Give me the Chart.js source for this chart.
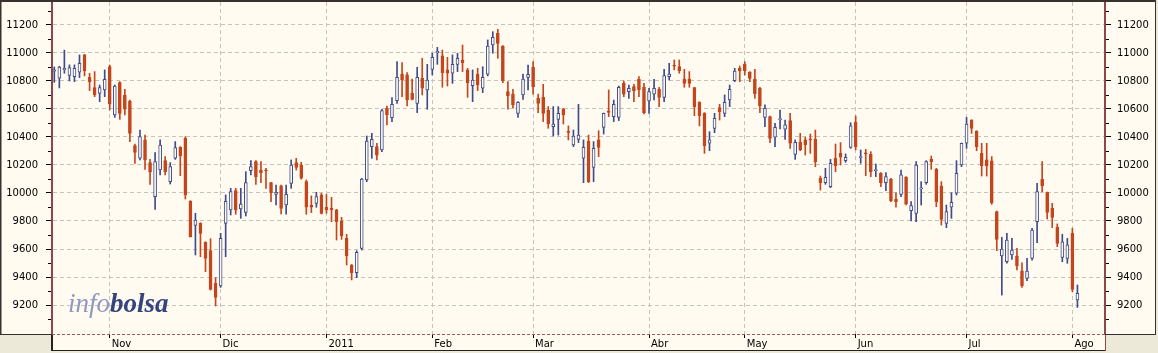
<!DOCTYPE html>
<html>
<head>
<meta charset="utf-8">
<script src="https://cdn.jsdelivr.net/npm/chart.js@4.4.1/dist/chart.umd.min.js"></script>
<style>
  html, body { margin: 0; padding: 0; background: #ece9d8; }
  #wrap { width: 1158px; height: 353px; }
</style>
</head>
<body>
<div id="wrap"><canvas id="ibex-chart" width="1158" height="353"></canvas></div>
<script>
// daily OHLC, 15 Oct 2010 -> 2 Aug 2011 (one entry per session)
const openV = [
  10870, 10820, 10880, 10840, 10830, 10862, 10986, 10826, 10752, 10712, 10736,
  10902, 10557, 10788, 10700, 10657, 10338, 10248, 10379, 10217, 9974, 10164,
  10231, 10081, 10248, 10326, 10390, 9943, 9769, 9783, 9648, 9588, 9355,
  9336, 9783, 9879, 10017, 9886, 9862, 10160, 10224, 10164, 10162, 10074,
  9990, 10052, 9914, 10069, 10217, 10200, 10081, 9914, 9926, 9986,
  9898, 9890, 9879, 9800, 9676, 9486, 9431, 9605, 10093, 10331, 10331,
  10307, 10605, 10538, 10660, 10850, 10843, 10712, 10640, 10819, 10736,
  10883, 11000, 10979, 10879, 10855, 10919, 10950, 10879, 10767, 10850,
  10748, 10848, 11057, 11140, 11050, 10724, 10707, 10569, 10700, 10826,
  10898, 10676, 10683, 10593, 10474, 10526, 10598, 10440, 10343, 10383,
  10248, 10371, 10183, 10379, 10469, 10586, 10545, 10540, 10783, 10724,
  10760, 10812, 10755,
  10657, 10705, 10740, 10683, 10831, 10910, 10902, 10814, 10814, 10752,
  10648, 10569, 10355, 10462, 10610, 10569, 10664, 10802, 10890,
  10921, 10862, 10814, 10748, 10540, 10545, 10398, 10524, 10455, 10517,
  10276, 10362, 10379, 10386, 10383, 10105, 10074, 10045, 10248, 10283,
  10231, 10326,
  10505, 10252, 10286, 10276, 10160, 10140, 10074, 10100, 9957, 9990,
  10112, 9874, 9855, 10029, 10074, 10240, 10169, 10050, 9783, 9898,
  9998, 10200,
  10355, 10521, 10443, 10283, 10236, 10229, 9867, 9550, 9509, 9557,
  9550, 9445, 9390, 9533, 9795, 10098, 10005, 9890, 9755, 9540, 9533,
  9712, 9236
];
const highV = [
  10900, 10905, 11020, 10915, 10915, 10986, 10990, 10855, 10867, 10771, 10879,
  10914, 10771, 10795, 10740, 10664, 10350, 10450, 10414, 10240, 10288, 10379,
  10260, 10217, 10367, 10331, 10402, 9945, 9855, 9788, 9652, 9674, 9395,
  9712, 9986, 10033, 10033, 10033, 10152, 10231, 10231, 10224, 10176, 10076,
  10057, 10057, 10057, 10236, 10248, 10219, 10093, 9979, 10005, 9998,
  9990, 9969, 9883, 9826, 9705, 9490, 9588, 10105, 10407, 10426, 10355,
  10598, 10621, 10681, 10938, 10931, 10860, 10814, 10898, 10962, 10919,
  10998, 11040, 11021, 10969, 10986, 10998, 11057, 10890, 10879, 10890,
  10902, 11093, 11152, 11169, 11052, 10795, 10740, 10652, 10850, 10914,
  10938, 10707, 10776, 10617, 10617, 10617, 10605, 10479, 10450, 10633,
  10379, 10414, 10367, 10445, 10571, 10736, 10664, 10764, 10800, 10771,
  10776, 10831, 10783,
  10748, 10812, 10755, 10883, 10926, 10950, 10950, 10883, 10867, 10755,
  10652, 10574, 10438, 10569, 10633, 10700, 10771, 10890, 10907,
  10938, 10867, 10883, 10755, 10629, 10550, 10498, 10593, 10521, 10569,
  10379, 10426, 10398, 10421, 10450, 10121, 10176, 10240, 10350, 10360,
  10279, 10502,
  10550, 10307, 10312, 10295, 10207, 10145, 10145, 10105, 10002, 10164,
  10117, 9938, 10224, 10081, 10231, 10264, 10176, 10081, 9914, 10002,
  10231, 10357,
  10540, 10524, 10445, 10355, 10355, 10260, 9871, 9683, 9712, 9676,
  9605, 9502, 9533, 9748, 10069, 10224, 10007, 9926, 9779, 9705, 9676,
  9748, 9343
];
const lowV = [
  10790, 10750, 10855, 10800, 10795, 10824, 10836, 10731, 10688, 10652, 10688,
  10593, 10540, 10526, 10557, 10367, 10212, 10236, 10169, 10062, 9883, 10129,
  10129, 10064, 10240, 10124, 9957, 9685, 9557, 9545, 9438, 9307, 9193,
  9326, 9545, 9843, 9848, 9819, 9836, 10129, 10062, 10074, 10033, 9938,
  9914, 9850, 9848, 10033, 10164, 10098, 9848, 9860, 9898, 9850,
  9855, 9795, 9664, 9669, 9486, 9379, 9395, 9593, 10081, 10248, 10236,
  10295, 10486, 10510, 10640, 10688, 10621, 10664, 10574, 10700, 10598,
  10843, 10919, 10755, 10764, 10783, 10867, 10867, 10683, 10652, 10731,
  10717, 10836, 10998, 10962, 10788, 10598, 10605, 10540, 10669, 10736,
  10705, 10574, 10510, 10462, 10407, 10414, 10493, 10379, 10331, 10360,
  10074, 10074, 10081, 10260, 10421, 10545, 10510, 10517, 10688, 10676,
  10652, 10688, 10564,
  10569, 10664, 10617, 10652, 10807, 10879, 10855, 10755, 10755, 10552,
  10479, 10283, 10302, 10431, 10521, 10545, 10617, 10795, 10795,
  10843, 10795, 10676, 10574, 10474, 10360, 10331, 10457, 10383, 10319,
  10240, 10302, 10271, 10283, 10188, 10021, 10062, 10038, 10152, 10200,
  10219, 10319,
  10307, 10212, 10124, 10117, 10117, 10045, 10017, 9938, 9898, 9974,
  9914, 9800, 9795, 9914, 10062, 10169, 9902, 9771, 9752, 9819,
  9986, 10188,
  10319, 10426, 10302, 10121, 10121, 9919, 9588, 9271, 9498, 9526,
  9450, 9326, 9374, 9521, 9645, 10010, 9814, 9752, 9617, 9509, 9498,
  9295, 9183
];
const closeV = [
  10880, 10900, 10890, 10895, 10890, 10926, 10871, 10795, 10700, 10752, 10812,
  10636, 10764, 10569, 10598, 10426, 10290, 10402, 10236, 10148, 10224, 10343,
  10152, 10188, 10324, 10264, 9986, 9688, 9807, 9712, 9533, 9312, 9255,
  9676, 9940, 10010, 9879, 9921, 10074, 10188, 10117, 10145, 10157, 10002,
  10005, 9890, 9990, 10200, 10183, 10105, 9898, 9898, 9974, 9855,
  9879, 9879, 9795, 9693, 9550, 9431, 9576, 10100, 10371, 10383, 10271,
  10588, 10557, 10633, 10826, 10807, 10664, 10669, 10826, 10748, 10807,
  10969, 11012, 10860, 10855, 10919, 10962, 10931, 10788, 10807, 10771,
  10826, 11050, 11112, 11069, 10802, 10695, 10629, 10648, 10814, 10848,
  10760, 10640, 10569, 10493, 10493, 10569, 10557, 10433, 10407, 10414,
  10326, 10081, 10319, 10326, 10569, 10576, 10633, 10755, 10705, 10748,
  10731, 10736, 10574,
  10724, 10748, 10683, 10838, 10850, 10905, 10874, 10783, 10783, 10617,
  10552, 10338, 10379, 10533, 10581, 10648, 10740, 10871, 10871,
  10874, 10819, 10707, 10621, 10605, 10390, 10469, 10529, 10486, 10355,
  10362, 10307, 10343, 10379, 10224, 10074, 10112, 10212, 10195, 10255,
  10255, 10479,
  10331, 10260, 10279, 10152, 10164, 10074, 10117, 9945, 9938, 10129,
  9921, 9910, 10200, 10033, 10224, 10224, 9938, 9812, 9867, 9933,
  10140, 10355,
  10493, 10462, 10331, 10195, 10193, 9931, 9669, 9600, 9664, 9593,
  9479, 9336, 9443, 9736, 10010, 10050, 9862, 9826, 9640, 9652, 9629,
  9312, 9283
];

// session index of the first trading day of each month
const monthTicks = [11, 33, 54, 75, 95, 118, 137, 159, 181, 202];
const monthLabels = ["Nov", "Dic", "2011", "Feb", "Mar", "Abr", "May", "Jun", "Jul", "Ago"];
const yMajor = [9200, 9400, 9600, 9800, 10000, 10200, 10400, 10600, 10800, 11000, 11200];
const yMinor = [9100, 9300, 9500, 9700, 9900, 10100, 10300, 10500, 10700, 10900, 11100, 11300];

const BLUE = "#3e4b8c";
const RED = "#c4461d";
const CREAM = "#fffbf0";
const GRID = "#c6c3b9";
const AXIS = "#8b4848";
const tickFont = { family: "DejaVu Sans", size: 10 };

const isUp = i => closeV[i] >= openV[i];

// drop the label padding chart.js reserves, the plot runs to the frame
const noPad = s => {
  s.paddingTop = 0;
  s.paddingBottom = 0;
  s.paddingLeft = 0;
  s.paddingRight = 0;
};

const frame = {
  id: "frame",
  beforeDraw(chart) {
    const { ctx } = chart;
    ctx.save();
    ctx.fillStyle = "#ece9d8";
    ctx.fillRect(0, 0, 1158, 353);
    ctx.fillStyle = CREAM;
    ctx.fillRect(0, 0, 1156, 335);
    ctx.fillRect(52, 335, 1054, 16);
    ctx.restore();
  },
  beforeDatasetsDraw(chart) {
    const { ctx } = chart;
    ctx.save();
    ctx.textBaseline = "alphabetic";
    ctx.font = 'italic 27px "Liberation Serif"';
    ctx.fillStyle = "#8f98c2";
    ctx.fillText("info", 68, 312);
    const w = ctx.measureText("info").width;
    ctx.font = 'italic bold 27px "Liberation Serif"';
    ctx.fillStyle = "#34447e";
    ctx.fillText("bolsa", 68 + w, 312);
    ctx.restore();
  },
  afterDraw(chart) {
    const { ctx, chartArea: a, scales } = chart;
    ctx.save();
    // minor ticks every 100 points
    ctx.strokeStyle = "#000";
    ctx.lineWidth = 1;
    ctx.beginPath();
    yMinor.forEach(v => {
      const py = Math.round(scales.y.getPixelForValue(v)) + 0.5;
      ctx.moveTo(a.left - 4, py);
      ctx.lineTo(a.left - 1, py);
      ctx.moveTo(a.right + 1, py);
      ctx.lineTo(a.right + 4, py);
    });
    ctx.stroke();
    // bottom edge of plot
    ctx.strokeStyle = "#a05858";
    ctx.setLineDash([3, 2]);
    ctx.beginPath();
    ctx.moveTo(a.left, 334.5);
    ctx.lineTo(a.right, 334.5);
    ctx.stroke();
    ctx.setLineDash([]);
    // outer box and date strip
    ctx.fillStyle = "#3a3030";
    ctx.fillRect(0, 0, 1156, 2);
    ctx.fillRect(0, 0, 1.5, 335);
    ctx.fillRect(1155, 0, 1, 335);
    ctx.fillRect(0, 334, 52, 1);
    ctx.fillRect(1105, 334, 51, 1);
    ctx.fillStyle = "#222";
    ctx.fillRect(51, 335, 2, 16);
    ctx.fillRect(51, 350, 1055, 1);
    ctx.fillStyle = AXIS;
    ctx.fillRect(1105, 335, 1, 16);
    ctx.restore();
  }
};

const cnv = document.getElementById("ibex-chart");
new Chart(cnv, {
  type: "bar",
  data: {
    datasets: [
      {
        label: "Rango",
        data: lowV.map((l, i) => ({ x: i, y: [l, highV[i]] })),
        backgroundColor: c => (isUp(c.dataIndex) ? BLUE : RED),
        barThickness: 1,
        grouped: false,
        order: 2
      },
      {
        label: "Apertura/Cierre",
        data: openV.map((o, i) => ({ x: i, y: [o, closeV[i]] })),
        backgroundColor: c => (isUp(c.dataIndex) ? CREAM : RED),
        borderColor: c => (isUp(c.dataIndex) ? BLUE : RED),
        borderWidth: 1,
        borderSkipped: false,
        barThickness: 3,
        minBarLength: 1,
        grouped: false,
        order: 1
      }
    ]
  },
  options: {
    responsive: false,
    animation: false,
    events: [],
    layout: { padding: { top: 2 } },
    plugins: { legend: { display: false }, tooltip: { enabled: false } },
    scales: {
      x: {
        type: "linear",
        offset: false,
        min: -0.456,
        max: 208.47,
        afterBuildTicks: s => { s.ticks = monthTicks.map(v => ({ value: v })); },
        afterFit: s => { s.height = 19; noPad(s); },
        ticks: {
          callback: (v, i) => monthLabels[i],
          align: "start",
          labelOffset: 2,
          padding: 0,
          autoSkip: false,
          maxRotation: 0,
          font: tickFont,
          color: "#000"
        },
        grid: { offset: false, color: GRID, tickColor: "#000", tickLength: 4, tickBorderDash: [] },
        border: { display: false, dash: [4, 3] }
      },
      y: {
        position: "left",
        min: 8993,
        max: 11364,
        afterBuildTicks: s => { s.ticks = yMajor.map(v => ({ value: v })); },
        afterFit: s => { s.width = 52; noPad(s); },
        ticks: { callback: v => String(v), padding: 8, font: tickFont, color: "#000" },
        grid: { color: GRID, tickColor: "#000", tickLength: 6, tickBorderDash: [] },
        border: { color: AXIS, width: 2, dash: [4, 3] }
      },
      y2: {
        position: "right",
        min: 8993,
        max: 11364,
        afterBuildTicks: s => { s.ticks = yMajor.map(v => ({ value: v })); },
        afterFit: s => { s.width = 53; noPad(s); },
        ticks: { callback: v => String(v), padding: 6, font: tickFont, color: "#000" },
        grid: { drawOnChartArea: false, tickColor: "#000", tickLength: 6, tickBorderDash: [] },
        border: { color: AXIS, width: 2 }
      }
    }
  },
  plugins: [frame]
});
</script>
</body>
</html>
